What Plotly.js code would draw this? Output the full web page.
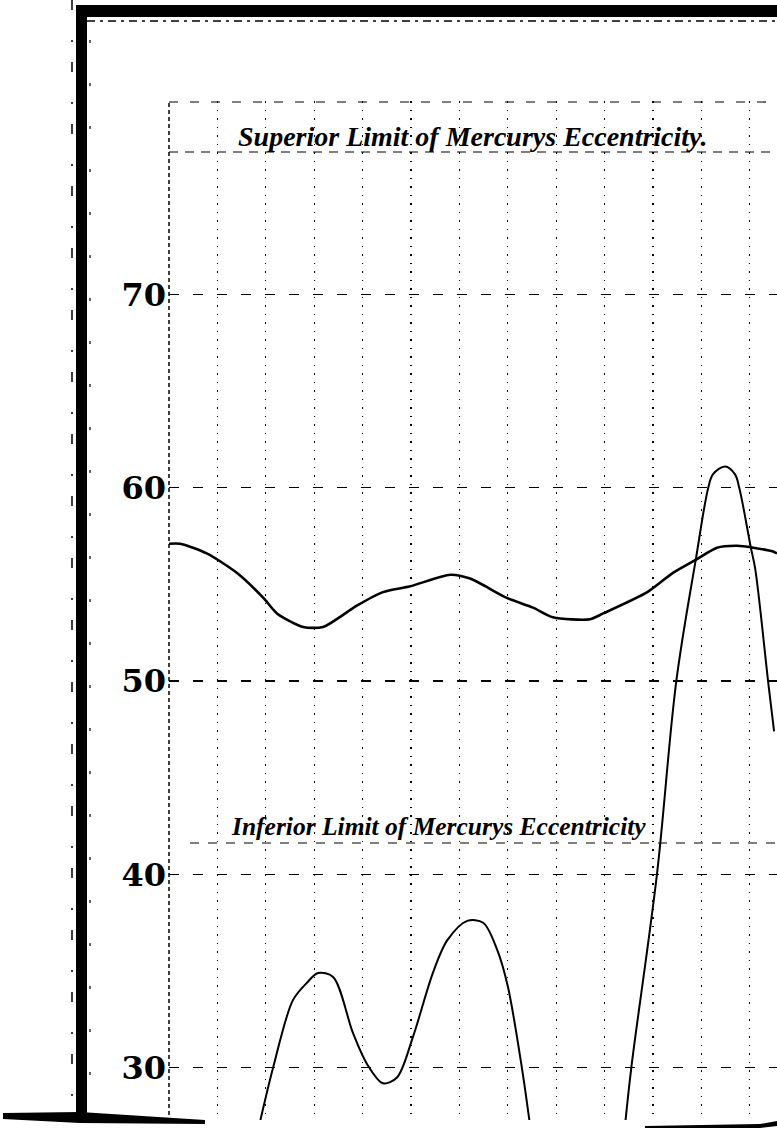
<!DOCTYPE html>
<html>
<head>
<meta charset="utf-8">
<script src="https://cdn.plot.ly/plotly-3.0.1.min.js"></script>
<style>html,body{margin:0;padding:0;background:#fff;}#chart{width:777px;height:1129px;}</style>
</head>
<body>
<div id="chart"></div>
<script>
// ---- data ----
// x: column index of the ruled grid (unitless), y: eccentricity value
const yTickVals = [30, 40, 50, 60, 70];
const yTickText = ["30", "40", "50", "60", "70"];

const superiorX = [0, 0.23, 0.78, 1.4, 1.95, 2.23, 2.77, 3.18, 3.88, 4.42, 4.98, 5.81, 6.22, 6.98, 7.52, 7.93, 8.7, 8.97, 9.88, 10.41, 10.9, 11.32, 11.74, 12.07, 12.48, 12.56];
const superiorY = [57.1, 57.1, 56.6, 55.6, 54.3, 53.5, 52.8, 52.8, 53.9, 54.6, 54.9, 55.5, 55.3, 54.3, 53.8, 53.3, 53.2, 53.5, 54.6, 55.6, 56.3, 56.9, 57.0, 56.9, 56.7, 56.6];

const peakX = [9.42, 9.55, 10.08, 10.48, 10.89, 11.14, 11.24, 11.49, 11.69, 11.78, 12.02, 12.11, 12.38, 12.5];
const peakY = [27.0, 30.0, 40.0, 50.0, 56.4, 60.0, 60.7, 61.1, 60.7, 60.0, 56.9, 55.8, 49.9, 47.4];

const inferiorX = [1.88, 2.15, 2.56, 2.85, 3.08, 3.39, 3.80, 4.09, 4.42, 4.71, 5.04, 5.45, 5.75, 6.16, 6.49, 6.78, 7.0, 7.29, 7.46];
const inferiorY = [27.2, 30.0, 33.5, 34.4, 34.9, 34.7, 31.8, 30.2, 29.2, 29.5, 31.6, 34.9, 36.6, 37.6, 37.5, 36.1, 34.2, 30.0, 27.0];

const superiorTitle = "Superior Limit of Mercurys Eccentricity.";
const inferiorTitle = "Inferior Limit of Mercurys Eccentricity";

// ---- layout helpers (pixel -> paper) ----
const L = 169, R = 777, T = 101, B = 1120;
const px = x => (x - L) / (R - L);
const py = y => (B - y) / (B - T);

const lineStyle = (w, dash) => ({color: "#000", width: w, dash: dash});

const traces = [
  {x: superiorX, y: superiorY, type: "scatter", mode: "lines", line: {color: "#000", width: 2.6, shape: "spline", smoothing: 0.7}, hoverinfo: "skip", name: "Superior"},
  {x: peakX, y: peakY, type: "scatter", mode: "lines", line: {color: "#000", width: 2, shape: "spline", smoothing: 1.0}, hoverinfo: "skip", name: "Peak"},
  {x: inferiorX, y: inferiorY, type: "scatter", mode: "lines", line: {color: "#000", width: 2, shape: "spline", smoothing: 0.9}, hoverinfo: "skip", name: "Inferior"}
];

const shapes = [
  // heavy frame
  {type: "rect", xref: "paper", yref: "paper", x0: px(77), x1: px(777), y0: py(5), y1: py(17), fillcolor: "#000", line: {width: 0}, layer: "above"},
  {type: "rect", xref: "paper", yref: "paper", x0: px(76), x1: px(87), y0: py(5), y1: py(1122), fillcolor: "#000", line: {width: 0}, layer: "above"},
  {type: "path", xref: "paper", yref: "paper", path: `M ${px(3)} ${py(1113)} L ${px(80)} ${py(1112)} L ${px(205)} ${py(1120)} L ${px(205)} ${py(1124)} L ${px(80)} ${py(1123)} L ${px(3)} ${py(1119)} Z`, fillcolor: "#000", line: {width: 0}, layer: "above"},
  {type: "path", xref: "paper", yref: "paper", path: `M ${px(645)} ${py(1126)} L ${px(760)} ${py(1124)} L ${px(777)} ${py(1121)} L ${px(777)} ${py(1126)} L ${px(760)} ${py(1128)} L ${px(645)} ${py(1128)} Z`, fillcolor: "#000", line: {width: 0}, layer: "above"},
  // outer ruled lines
  {type: "line", xref: "paper", yref: "paper", x0: px(87), x1: px(777), y0: py(21), y1: py(21), line: lineStyle(1.5, "8px,5px,3px,5px")},
  {type: "line", xref: "paper", yref: "paper", x0: px(72), x1: px(72), y0: py(0), y1: py(1112), line: lineStyle(1.5, "10px,30px,2px,20px")},
  {type: "line", xref: "paper", yref: "paper", x0: px(90), x1: px(90), y0: py(40), y1: py(1110), line: lineStyle(1.2, "3px,40px")},
  // plot border / title rules
  {type: "line", xref: "paper", yref: "paper", x0: px(169), x1: px(169), y0: py(103), y1: py(1120), line: lineStyle(1.5, "4px,3px")},
  {type: "line", xref: "paper", yref: "paper", x0: px(169), x1: px(777), y0: py(102), y1: py(102), line: lineStyle(1.2, "9px,12px")},
  {type: "line", xref: "paper", yref: "paper", x0: px(169), x1: px(777), y0: py(152), y1: py(152), line: lineStyle(1.2, "9px,7px")},
  {type: "line", xref: "paper", yref: "paper", x0: px(190), x1: px(777), y0: py(843), y1: py(843), line: lineStyle(1.2, "9px,9px")}
];

const annotations = [
  {xref: "paper", yref: "paper", x: px(236), y: py(137), xanchor: "left", yanchor: "middle", showarrow: false, text: superiorTitle,
   font: {family: "Liberation Serif", size: 28, weight: "bold", style: "italic", color: "#000"}},
  {xref: "paper", yref: "paper", x: px(229), y: py(826), xanchor: "left", yanchor: "middle", showarrow: false, text: inferiorTitle,
   font: {family: "Liberation Serif", size: 25.5, weight: "bold", style: "italic", color: "#000"}}
];

const layout = {
  width: 777, height: 1129,
  margin: {l: L, r: 777 - R, t: T, b: 1129 - B, pad: 0},
  paper_bgcolor: "#fff", plot_bgcolor: "#fff",
  showlegend: false,
  xaxis: {range: [0, 12.56], dtick: 1, tick0: 0, showticklabels: false, ticks: "", showgrid: true, gridcolor: "#000", gridwidth: 1.2, griddash: "1.5px,7px", zeroline: false, showline: false, fixedrange: true},
  yaxis: {range: [27.3, 80], tickvals: yTickVals, ticktext: yTickText, ticks: "", showgrid: true, gridcolor: "#000", gridwidth: 1.2, griddash: "10px,14px", zeroline: false, showline: false,
          tickfont: {family: "DejaVu Serif", size: 32, weight: "bold", color: "#000"}, ticklabelstandoff: 2, fixedrange: true},
  shapes: shapes,
  annotations: annotations
};

Plotly.newPlot("chart", traces, layout, {staticPlot: true, displayModeBar: false});
</script>
</body>
</html>
